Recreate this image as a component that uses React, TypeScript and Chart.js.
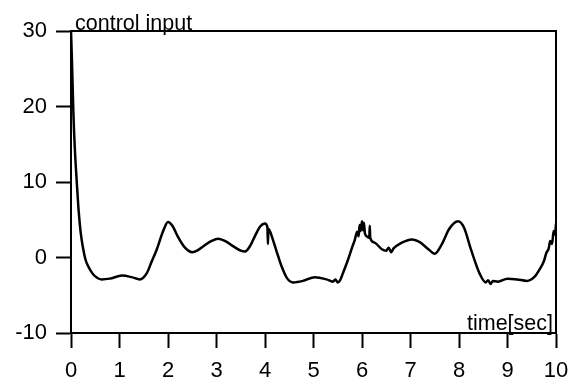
import React, { useEffect, useRef } from "react";
import { Chart, registerables } from "chart.js";

Chart.register(...registerables);

const times: number[] = [
  0, 0.02, 0.05, 0.08, 0.12, 0.16, 0.2, 0.25, 0.3, 0.35, 0.43, 0.5, 0.63, 0.8,
  1.05, 1.25, 1.42, 1.56, 1.66, 1.77, 1.9, 2.0, 2.1, 2.2, 2.35, 2.5, 2.6, 2.73,
  2.9, 3.03, 3.2, 3.34, 3.5, 3.59, 3.7, 3.79, 3.9, 4.0, 4.05, 4.06, 4.07, 4.1,
  4.2, 4.27, 4.35, 4.45, 4.58, 4.78, 5.03, 5.27, 5.4, 5.45, 5.5, 5.55, 5.6, 5.7,
  5.8, 5.85, 5.9, 5.93, 5.95, 5.97, 6.0, 6.02, 6.04, 6.06, 6.1, 6.15, 6.16,
  6.17, 6.25, 6.41, 6.5, 6.55, 6.6, 6.65, 6.8, 7.03, 7.2, 7.35, 7.5, 7.65, 7.8,
  7.98, 8.1, 8.25, 8.43, 8.55, 8.6, 8.65, 8.7, 8.8, 9.0, 9.2, 9.4, 9.55, 9.65,
  9.75, 9.8, 9.85, 9.88, 9.92, 9.95, 9.98, 10,
];

const controlInput: number[] = [
  30, 26, 19, 14.3, 9.9, 6, 3.3, 1.2, -0.3, -1.1, -2.0, -2.5, -2.9, -2.8,
  -2.4, -2.6, -2.9, -2.1, -0.6, 1.1, 3.5, 4.7, 4.1, 2.8, 1.3, 0.7, 0.9, 1.5,
  2.2, 2.5, 2.1, 1.5, 0.9, 0.8, 1.6, 2.8, 4.1, 4.5, 4.0, 1.8, 3.8, 3.5,
  1.6, 0.2, -1.3, -2.7, -3.3, -3.1, -2.6, -2.9, -3.2, -2.9, -3.3, -3.0, -2.2, -0.5,
  1.4, 2.3, 3.4, 2.8, 4.3, 3.5, 4.8, 3.6, 4.6, 3.2, 2.8, 2.6, 4.2,
  2.6, 2.0, 1.1, 0.9, 1.3, 0.7, 1.2, 1.9, 2.4, 2.0, 1.2, 0.5, 1.8, 3.8,
  4.8, 4.0, 1.0, -2.2, -3.3, -3.0, -3.5, -3.1, -3.2, -2.8, -2.9, -3.1, -2.6, -1.7,
  -0.5, 0.6, 1.2, 2.2, 1.8, 3.5, 3.0, 4.5,
];

const xTicks: number[] = [0, 1, 2, 3, 4, 5, 6, 7, 8, 9, 10];
const yTicks: number[] = [-10, 0, 10, 20, 30];

const yLabel = "control input";
const xLabel = "time[sec]";

const FONT = "'Liberation Sans', Arial, Helvetica, sans-serif";

export default function App() {
  const ref = useRef<HTMLCanvasElement | null>(null);

  useEffect(() => {
    if (!ref.current) return;
    const boxPlugin = {
      id: "boxAndLabels",
      afterDraw(chart: any) {
        const { ctx, chartArea } = chart;
        const { left, right, top, bottom } = chartArea;
        ctx.save();
        ctx.strokeStyle = "#000";
        ctx.lineWidth = 2;
        ctx.beginPath();
        ctx.moveTo(left, top);
        ctx.lineTo(right, top);
        ctx.lineTo(right, bottom);
        ctx.stroke();
        ctx.fillStyle = "#000";
        ctx.font = `21.5px ${FONT}`;
        ctx.textBaseline = "alphabetic";
        ctx.textAlign = "left";
        ctx.fillText(yLabel, left + 4, top - 1);
        ctx.textAlign = "right";
        ctx.fillText(xLabel, right - 3, bottom - 3);
        ctx.restore();
      },
    };

    const chart = new Chart(ref.current, {
      type: "line",
      data: {
        datasets: [
          {
            data: times.map((t, i) => ({ x: t, y: controlInput[i] })),
            borderColor: "#000",
            borderWidth: 2.5,
            pointRadius: 0,
            cubicInterpolationMode: "monotone",
            fill: false,
          },
        ],
      },
      options: {
        responsive: false,
        animation: false,
        layout: { padding: { top: 31, right: 17, left: 0, bottom: 0 } },
        plugins: {
          legend: { display: false },
          tooltip: { enabled: false },
        },
        scales: {
          x: {
            type: "linear",
            min: 0,
            max: 10,
            afterFit: (s: any) => {
              s.height = 49;
              s.paddingLeft = 0;
              s.paddingRight = 0;
            },
            afterBuildTicks: (s: any) => {
              s.ticks = xTicks.map((v) => ({ value: v }));
            },
            border: { display: true, color: "#000", width: 2 },
            grid: {
              drawOnChartArea: false,
              drawTicks: true,
              tickLength: 15,
              tickWidth: 2,
              tickColor: "#000",
            },
            ticks: {
              color: "#000",
              padding: 10,
              maxRotation: 0,
              font: { family: FONT, size: 22 },
            },
          },
          y: {
            type: "linear",
            min: -10,
            max: 30,
            afterFit: (s: any) => {
              s.width = 71;
              s.paddingTop = 0;
              s.paddingBottom = 0;
            },
            afterBuildTicks: (s: any) => {
              s.ticks = yTicks.map((v) => ({ value: v }));
            },
            border: { display: true, color: "#000", width: 2 },
            grid: {
              drawOnChartArea: false,
              drawTicks: true,
              tickLength: 15,
              tickWidth: 2,
              tickColor: "#000",
            },
            ticks: {
              color: "#000",
              padding: 9,
              font: { family: FONT, size: 22 },
            },
          },
        },
      },
      plugins: [boxPlugin],
    } as any);
    return () => chart.destroy();
  }, []);

  return (
    <div style={{ position: "absolute", left: 0, top: 0, width: 573, height: 382, background: "#fff" }}>
      <canvas ref={ref} width={573} height={382} style={{ width: 573, height: 382 }} />
    </div>
  );
}
